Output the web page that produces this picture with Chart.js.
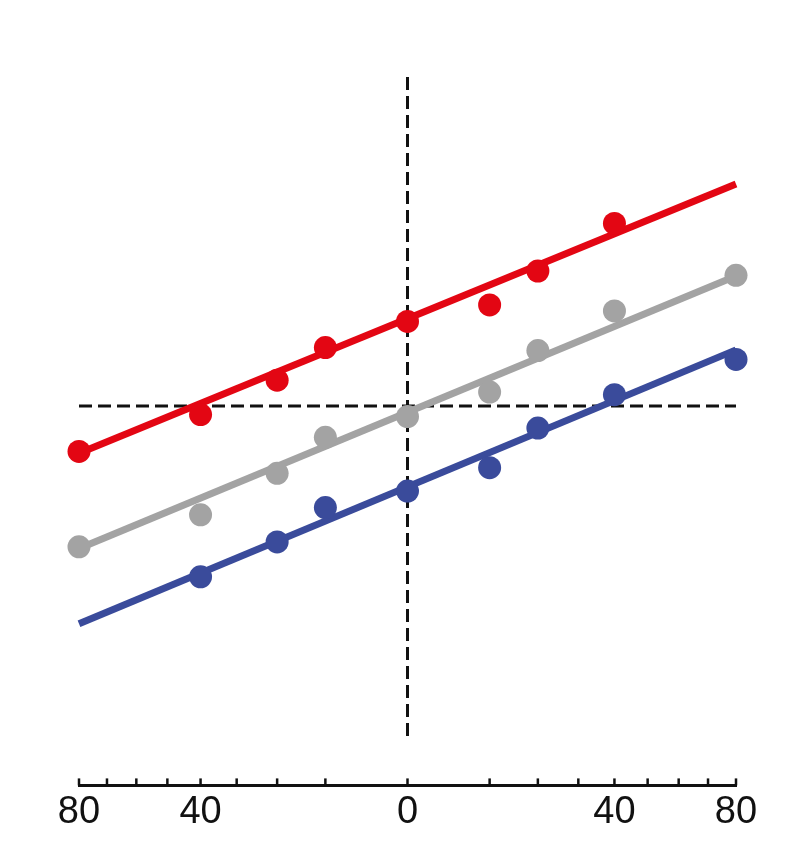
<!DOCTYPE html>
<html><head><meta charset="utf-8">
<script src="https://cdn.jsdelivr.net/npm/chart.js@4.4.1/dist/chart.umd.min.js"></script>
<style>html,body{margin:0;padding:0;background:#fff;overflow:hidden}#wrap{width:800px;height:852px;position:relative}</style>
</head><body><div id="wrap"><canvas id="c"></canvas></div>
<script>
// ---- data (x in original axis units, y in arbitrary units; 0 = dashed horizontal guide)
const redX  = [-80, -40, -20, -10, 0, 10, 20, 40];
const redY  = [-0.138, -0.026, 0.078, 0.177, 0.256, 0.306, 0.409, 0.553];
const grayX = [-80, -40, -20, -10, 0, 10, 20, 40, 80];
const grayY = [-0.427, -0.330, -0.204, -0.095, -0.032, 0.042, 0.168, 0.288, 0.396];
const blueX = [-40, -20, -10, 0, 10, 20, 40, 80];
const blueY = [-0.518, -0.412, -0.308, -0.258, -0.187, -0.067, 0.034, 0.141];
const fitX    = [-80, 80];
const redFit  = [-0.143, 0.673];
const grayFit = [-0.432, 0.394];
const blueFit = [-0.660, 0.170];
const guideHX = [-80, 80], guideHY = [0, 0];
const guideVX = [0, 0],   guideVY = [-1, 1];
const tickValues = [-80, -40, 0, 40, 80];
const tickTexts  = ['80', '40', '0', '40', '80'];

// ---- signed power (2/3) scale
const EXP = 2 / 3;
class PowerScale extends Chart.LinearScale {
  static id = 'power';
  static defaults = Chart.LinearScale.defaults;
  _f(v) { return Math.sign(v) * Math.pow(Math.abs(v), EXP); }
  _fi(u) { return Math.sign(u) * Math.pow(Math.abs(u), 1 / EXP); }
  getPixelForValue(value) {
    if (value === null || value === undefined || isNaN(value)) return NaN;
    const a = this._f(this.min), b = this._f(this.max);
    return this.getPixelForDecimal((this._f(value) - a) / (b - a));
  }
  getValueForPixel(pixel) {
    const a = this._f(this.min), b = this._f(this.max);
    return this._fi(a + this.getDecimalForPixel(pixel) * (b - a));
  }
}
Chart.register(PowerScale);

const pts = (xs, ys) => xs.map((x, i) => ({x, y: ys[i]}));
const RED = '#e30613', GRAY = '#a3a3a3', BLUE = '#3a4b9b';

const innerTicks = {
  id: 'innerTicks',
  afterDraw(chart) {
    const s = chart.scales.x, ctx = chart.ctx, b = chart.chartArea.bottom;
    ctx.save();
    ctx.strokeStyle = '#111';
    ctx.lineWidth = 2.5;
    for (let i = 0; i < s.ticks.length; i++) {
      const px = s.getPixelForTick(i);
      ctx.beginPath(); ctx.moveTo(px, b); ctx.lineTo(px, b - 7); ctx.stroke();
    }
    ctx.restore();
  }
};

const dot = (data, color) => ({data, showLine: false, pointRadius: 11.5, pointHoverRadius: 11.5,
  pointBackgroundColor: color, pointBorderWidth: 0, borderColor: color, order: 0, clip: false});
const fit = (data, color) => ({data, showLine: true, pointRadius: 0, borderColor: color,
  borderWidth: 7, borderCapStyle: 'butt', order: 1, clip: false});
const guide = (data) => ({data, showLine: true, pointRadius: 0, borderColor: '#111',
  borderWidth: 3, borderDash: [13, 6], order: 2, clip: false});

new Chart(document.getElementById('c'), {
  type: 'scatter',
  data: { datasets: [
    dot(pts(redX, redY), RED),
    dot(pts(grayX, grayY), GRAY),
    dot(pts(blueX, blueY), BLUE),
    fit(pts(fitX, redFit), RED),
    fit(pts(fitX, grayFit), GRAY),
    fit(pts(fitX, blueFit), BLUE),
    guide(pts(guideHX, guideHY)),
    guide(pts(guideVX, guideVY)),
  ]},
  options: {
    responsive: true, maintainAspectRatio: false, animation: false,
    layout: { padding: { left: 79, right: 64, top: 76, bottom: 21 } },
    plugins: { legend: { display: false }, tooltip: { enabled: false } },
    scales: {
      x: {
        type: 'power', min: -80, max: 80,
        grid: { display: false },
        border: { display: true, width: 3, color: '#111' },
        ticks: {
          stepSize: 10, autoSkip: false, maxRotation: 0, minRotation: 0, padding: -4,
          color: '#111', font: { family: '"Liberation Sans", Arial, sans-serif', size: 38 },
          callback: (v) => { const k = tickValues.indexOf(Math.round(v)); return k >= 0 ? tickTexts[k] : ''; }
        }
      },
      y: { display: false, min: -1.15, max: 1.0 }
    }
  },
  plugins: [innerTicks]
});
</script>
</body></html>
